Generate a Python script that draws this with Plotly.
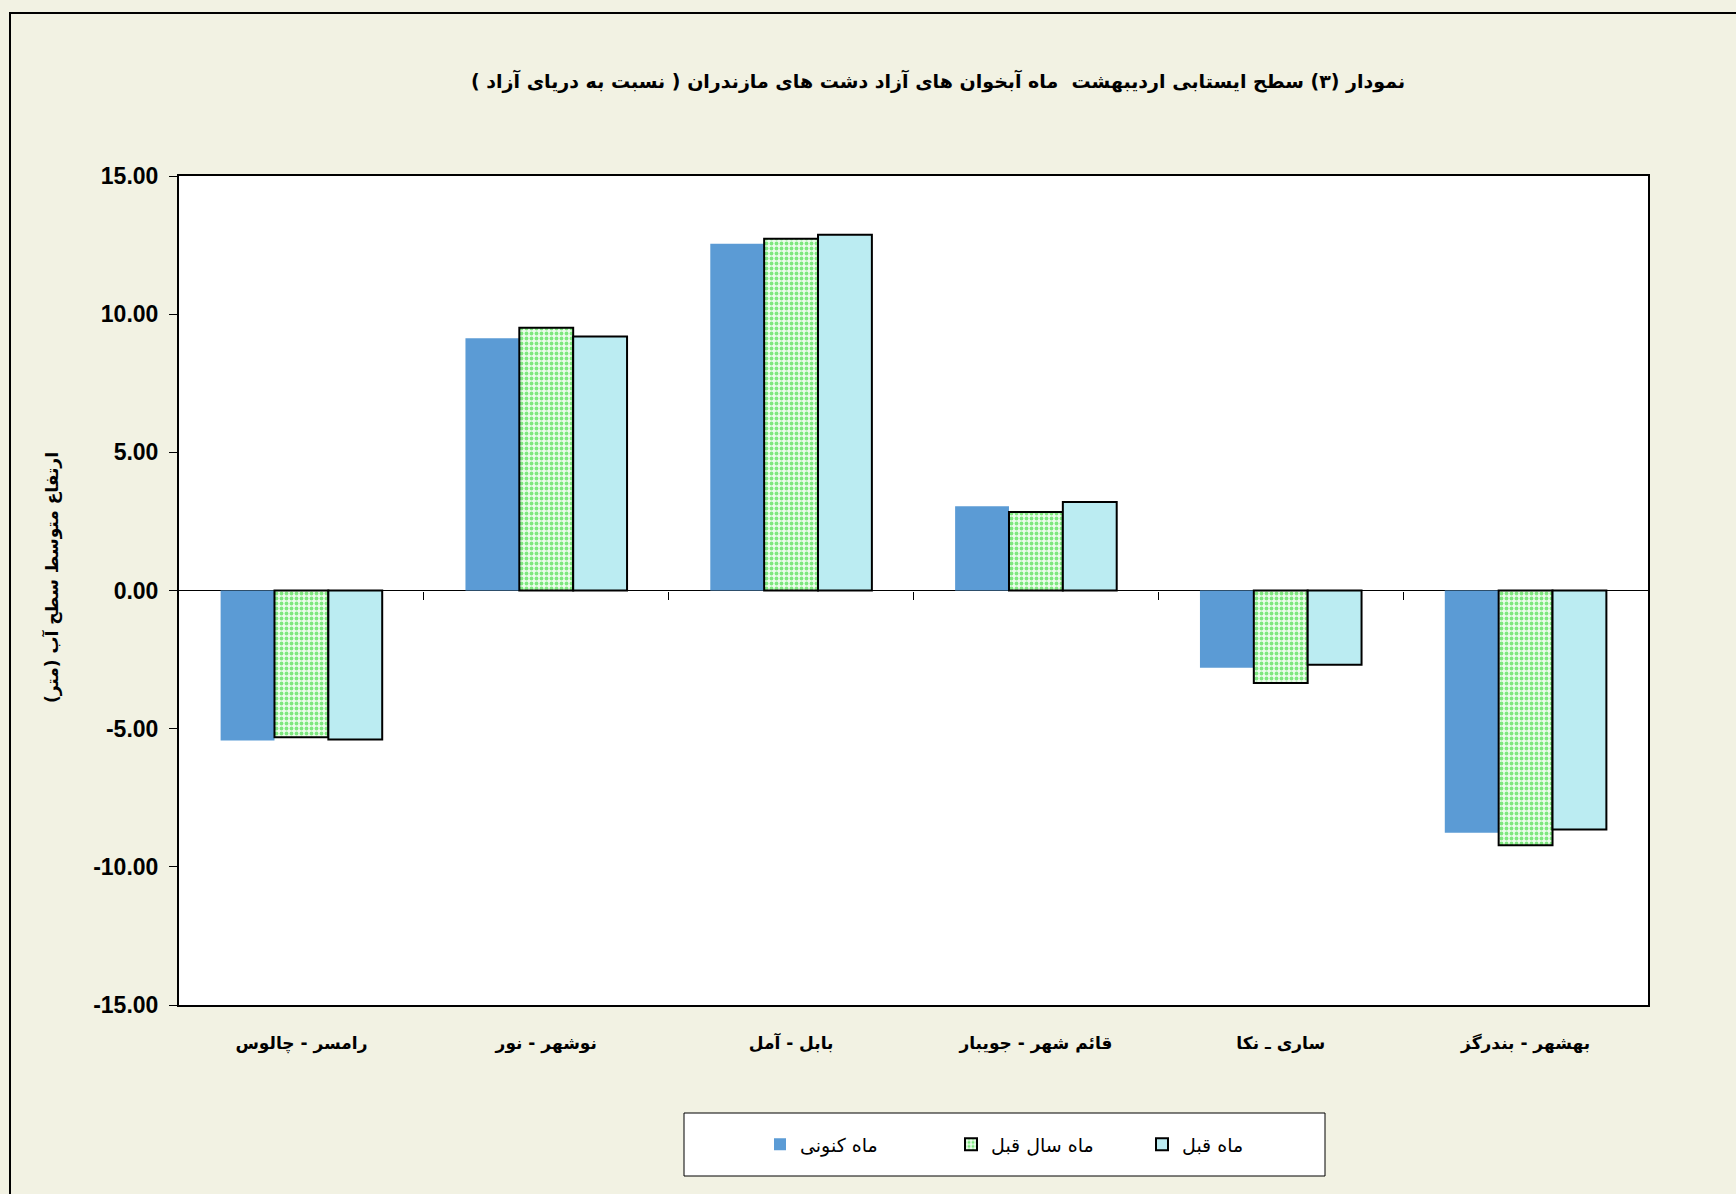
import plotly.graph_objects as go

categories = ["رامسر - چالوس", "نوشهر - نور", "بابل - آمل", "قائم شهر - جویبار", "ساری ـ نکا", "بهشهر - بندرگز"]
series_names = ["ماه کنونی", "ماه سال قبل", "ماه قبل"]
current_month = [-5.43, 9.13, 12.55, 3.05, -2.80, -8.77]
last_year_month = [-5.31, 9.51, 12.73, 2.84, -3.35, -9.22]
previous_month = [-5.39, 9.19, 12.87, 3.20, -2.69, -8.65]
y_ticks = [-15, -10, -5, 0, 5, 10, 15]
y_tick_labels = ["-15.00", "-10.00", "-5.00", "0.00", "5.00", "10.00", "15.00"]
boundaries = [0.5, 1.5, 2.5, 3.5, 4.5]

title_text = "نمودار (۳) سطح ایستابی اردیبهشت  ماه آبخوان های آزاد دشت های مازندران ( نسبت به دریای آزاد )"
ytitle_text = "ارتفاع متوسط سطح آب (متر)"

RLE, PDF = "\u202b", "\u202c"

W, H = 1736, 1194
L, R, T, B = 179, 88, 176, 189
PW, PH = W - L - R, H - T - B
BG = "#f2f2e3"

def px_x(v):
    return (v - L) / PW

def px_y(v):
    return (H - B - v) / PH

ARABIC = "DejaVu Sans"

fig = go.Figure()
fig.add_trace(go.Bar(
    x=categories, y=current_month, name=series_names[0],
    marker=dict(color="#5b9bd5", line=dict(width=0)),
))
fig.add_trace(go.Bar(
    x=categories, y=last_year_month, name=series_names[1],
    marker=dict(color="#e6fbe6", line=dict(color="black", width=2),
                pattern=dict(shape=".", fgcolor="#0fd40f", bgcolor="#ecfcec",
                             size=5, solidity=0.45, fillmode="overlay")),
))
fig.add_trace(go.Bar(
    x=categories, y=previous_month, name=series_names[2],
    marker=dict(color="#bbecf2", line=dict(color="black", width=2)),
))
# helper trace to register the zero-line axis
fig.add_trace(go.Scatter(x=[None], y=[None], xaxis="x2", yaxis="y",
                         showlegend=False, hoverinfo="skip"))

fig.update_layout(
    width=W, height=H, autosize=False,
    margin=dict(l=L, r=R, t=T, b=B),
    paper_bgcolor=BG,
    plot_bgcolor="white",
    barmode="group", bargap=0.34, bargroupgap=0,
    font=dict(family=ARABIC, color="black"),
    xaxis=dict(
        type="category", categoryorder="array", categoryarray=categories,
        range=[-0.5, 5.5],
        showline=True, linecolor="black", linewidth=2, mirror=True,
        ticks="", showgrid=False,
        tickfont=dict(family=ARABIC, size=17, color="black", weight="bold"),
        ticklabelstandoff=22,
    ),
    xaxis2=dict(
        overlaying="x", anchor="free", position=0.5, side="bottom",
        range=[-0.5, 5.5], tickmode="array", tickvals=boundaries,
        ticks="outside", ticklen=8, tickwidth=1, tickcolor="black",
        showticklabels=False, showgrid=False, showline=False, zeroline=False,
    ),
    yaxis=dict(
        range=[-15, 15], tickmode="array", tickvals=y_ticks, ticktext=y_tick_labels,
        showline=True, linecolor="black", linewidth=2, mirror=True,
        ticks="outside", ticklen=8, tickwidth=1, tickcolor="black",
        showgrid=False, zeroline=True, zerolinecolor="black", zerolinewidth=1,
        tickfont=dict(family="Liberation Sans", size=23, color="black", weight="bold"),
        ticklabelstandoff=6,
    ),
    showlegend=True,
    legend=dict(
        orientation="h", x=px_x(760), xanchor="left",
        y=px_y(1144.5), yanchor="middle",
        bgcolor="rgba(0,0,0,0)", borderwidth=0,
        entrywidth=146, entrywidthmode="pixels",
        font=dict(family=ARABIC, size=19, color="black"),
        traceorder="normal",
    ),
    shapes=[
        dict(type="rect", xref="paper", yref="paper",
             x0=px_x(10), x1=px_x(W + 10), y0=px_y(H + 10), y1=px_y(13),
             line=dict(color="black", width=2), fillcolor="rgba(0,0,0,0)", layer="below"),
        dict(type="rect", xref="paper", yref="paper",
             x0=px_x(684), x1=px_x(1325), y0=px_y(1176), y1=px_y(1113),
             line=dict(color="black", width=1), fillcolor="white", layer="below"),
    ],
    annotations=[
        dict(text=RLE + title_text + PDF, xref="paper", yref="paper",
             x=px_x(938), y=px_y(81), xanchor="center", yanchor="middle",
             showarrow=False, font=dict(family=ARABIC, size=19, color="black", weight="bold")),
        dict(text=RLE + ytitle_text + PDF, xref="paper", yref="paper",
             x=px_x(52), y=px_y(577), xanchor="center", yanchor="middle",
             textangle=-90, showarrow=False,
             font=dict(family=ARABIC, size=17, color="black", weight="bold")),
    ],
)

fig.write_html(
    "out.html",
    config={"displayModeBar": False},
    post_script="document.body.style.margin='0';document.body.style.background='" + BG + "';",
)
